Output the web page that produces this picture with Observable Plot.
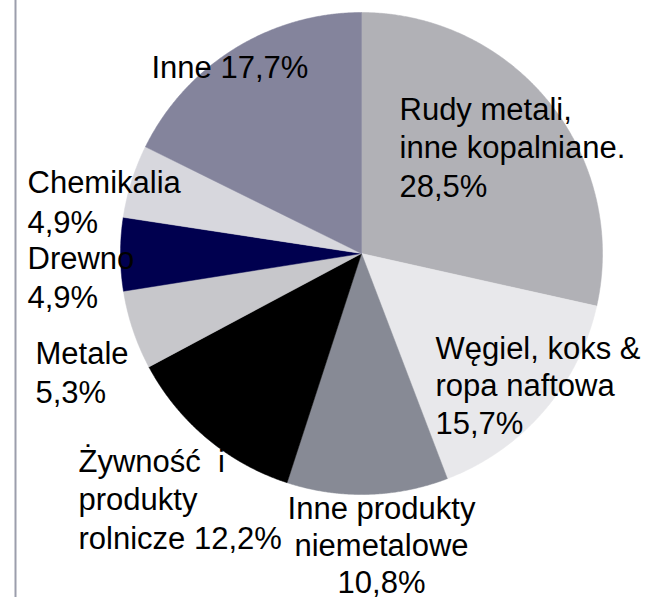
<!DOCTYPE html>
<html>
<head>
<meta charset="utf-8">
<script src="https://cdn.jsdelivr.net/npm/d3@7"></script>
<script src="https://cdn.jsdelivr.net/npm/@observablehq/plot@0.6"></script>
<style>
  html, body { margin: 0; padding: 0; background: #fff; }
  #chart svg { display: block; }
</style>
</head>
<body>
<div id="chart"></div>
<script>
// ---- Data ----
const categories = [
  "Rudy metali, inne kopalniane.",
  "Węgiel, koks & ropa naftowa",
  "Inne produkty niemetalowe",
  "Żywność i produkty rolnicze",
  "Metale",
  "Drewno",
  "Chemikalia",
  "Inne"
];
const shares = [28.5, 15.7, 10.8, 12.2, 5.3, 4.9, 4.9, 17.7];
const colors = ["#b1b1b6", "#e8e8eb", "#878a95", "#000000", "#c7c7cb", "#00004f", "#d7d7dd", "#84849c"];
const labelLines = [
  ["Rudy metali,", "inne kopalniane.", "28,5%"],
  ["Węgiel, koks &", "ropa naftowa", "15,7%"],
  ["Inne produkty", "niemetalowe", "10,8%"],
  ["Żywność\u00a0\u00a0i", "produkty", "rolnicze 12,2%"],
  ["Metale", "5,3%"],
  ["Drewno", "4,9%"],
  ["Chemikalia", "4,9%"],
  ["Inne 17,7%"]
];

// ---- Layout (pixels) ----
const W = 649, H = 598;
const cx = 361, cy = 253, R = 241;
// label anchor: [x, first baseline, line step, text-anchor]
const labelLayout = [
  [399, 119, 38.5, "start"],
  [435, 358, 37.5, "start"],
  [381, 518, 37, "middle"],
  [78, 471, 38.5, "start"],
  [35, 363, 39, "start"],
  [27, 268, 39, "start"],
  [27, 192, 40, "start"],
  [151, 77, 38, "start"]
];

// pixel -> data helpers (data unit = radius)
const px2x = p => (p - cx) / R;
const px2y = p => (cy - p) / R;

const pie = d3.pie().sort(null).value(d => d.value)(
  categories.map((c, i) => ({category: c, value: shares[i], color: colors[i]}))
);

const slicePts = [];
pie.forEach((s, i) => {
  slicePts.push({i, x: 0, y: 0});
  const n = Math.max(2, Math.ceil((s.endAngle - s.startAngle) / 0.005));
  for (let k = 0; k <= n; k++) {
    const a = s.startAngle + (s.endAngle - s.startAngle) * k / n;
    slicePts.push({i, x: Math.sin(a), y: Math.cos(a)});
  }
  slicePts.push({i, x: 0, y: 0});
});

const textRows = [];
labelLines.forEach((lines, i) => {
  const [lx, ly, step, anchor] = labelLayout[i];
  lines.forEach((t, j) => {
    textRows.push({text: t, x: px2x(lx), y: px2y(ly + j * step), anchor});
  });
});

const font = "'Liberation Sans', Arial, Helvetica, sans-serif";

const plot = Plot.plot({
  width: W,
  height: H,
  margin: 0,
  x: {domain: [px2x(0), px2x(W)], axis: null},
  y: {domain: [px2y(H), px2y(0)], axis: null},
  style: {fontFamily: font, background: "#fff"},
  marks: [
    Plot.ruleX([px2x(15)], {y1: px2y(0), y2: px2y(597), stroke: "#9b9eac", strokeWidth: 2}),
    Plot.line(slicePts, {
      x: "x", y: "y", z: "i",
      fill: d => colors[d.i],
      stroke: d => colors[d.i],
      strokeWidth: 0.5,
      curve: "linear"
    }),
    Plot.text(textRows.filter(d => d.anchor === "start"), {
      x: "x", y: "y", text: "text",
      textAnchor: "start", lineAnchor: "bottom",
      fontSize: 31, fill: "#000"
    }),
    Plot.text(textRows.filter(d => d.anchor === "middle"), {
      x: "x", y: "y", text: "text",
      textAnchor: "middle", lineAnchor: "bottom",
      fontSize: 31, fill: "#000"
    })
  ]
});
document.getElementById("chart").appendChild(plot);
</script>
</body>
</html>
